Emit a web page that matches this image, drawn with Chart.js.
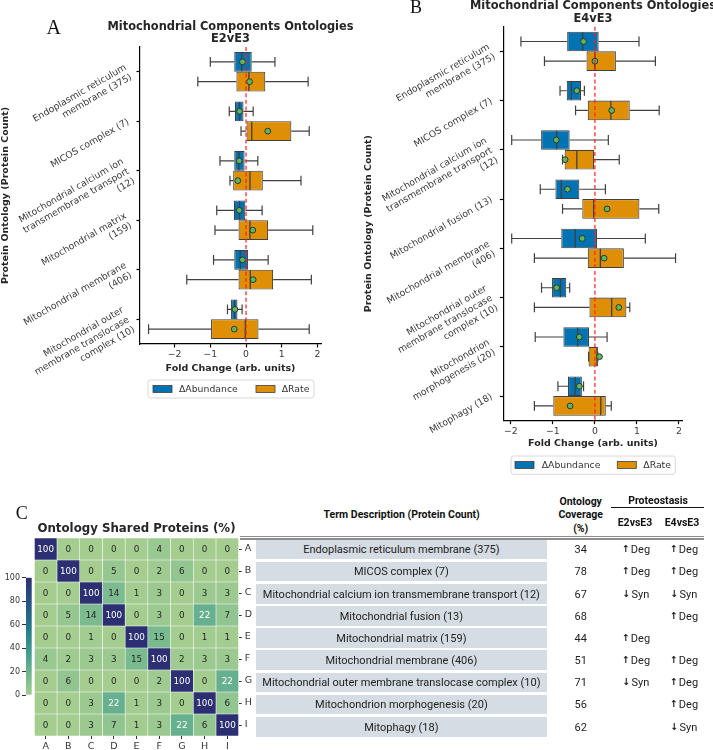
<!DOCTYPE html>
<html><head><meta charset="utf-8">
<script src="https://cdn.jsdelivr.net/npm/chart.js@4.4.1/dist/chart.umd.min.js"></script>
<style>
html,body{margin:0;padding:0;background:#fff;width:713px;height:750px;overflow:hidden;position:relative;}
canvas{position:absolute;}
.t{position:absolute;font-family:Roboto,'Liberation Sans',sans-serif;color:#222;white-space:nowrap;transform:translate(-50%,-50%);line-height:1;}
.hb{font-weight:bold;font-size:10.5px;color:#111;}
.ar{font-family:'DejaVu Sans',sans-serif;font-weight:bold;font-size:9.5px;position:relative;top:-1px;margin-right:1px;}
</style></head><body>
<canvas id="cA" width="365" height="420" style="left:0;top:0;width:365px;height:420px"></canvas>
<canvas id="cB" width="383" height="480" style="left:330px;top:0;width:383px;height:480px"></canvas>
<canvas id="cH" width="262" height="245" style="left:0;top:505px;width:262px;height:245px"></canvas>
<canvas id="cCB" width="34" height="132" style="left:0;top:570px;width:34px;height:132px"></canvas>
<div id="tbl"></div>
<script>
// ---------------- DATA ----------------
const foldTicks = [-2, -1, 0, 1, 2];
const seriesNames = ['\u0394Abundance', '\u0394Rate'];

const categoriesA = [
  ['Endoplasmic reticulum', 'membrane (375)'],
  ['MICOS complex (7)'],
  ['Mitochondrial calcium ion', 'transmembrane transport', '(12)'],
  ['Mitochondrial matrix', '(159)'],
  ['Mitochondrial membrane', '(406)'],
  ['Mitochondrial outer', 'membrane translocase', 'complex (10)']
];
// [whisker low, q1, median, q3, whisker high]
const abundanceA = [
  [-1.00, -0.33, -0.12, 0.16, 0.81],
  [-0.47, -0.31, -0.18, -0.07, 0.20],
  [-0.73, -0.33, -0.20, -0.04, 0.33],
  [-0.82, -0.34, -0.18, -0.02, 0.45],
  [-0.91, -0.33, -0.16, 0.06, 0.62],
  [-0.52, -0.42, -0.32, -0.24, -0.11]
];
const abundanceMeanA = [-0.10, -0.18, -0.19, -0.19, -0.10, -0.31];
const rateA = [
  [-1.35, -0.27, 0.08, 0.54, 1.74],
  [-0.14, 0.00, 0.16, 1.27, 1.77],
  [-0.45, -0.36, 0.11, 0.47, 1.54],
  [-0.87, -0.21, 0.11, 0.62, 1.87],
  [-1.66, -0.21, 0.12, 0.76, 1.83],
  [-2.73, -0.98, -0.02, 0.35, 1.77]
];
const rateMeanA = [0.10, 0.61, -0.23, 0.19, 0.20, -0.33];

const categoriesB = [
  ['Endoplasmic reticulum', 'membrane (375)'],
  ['MICOS complex (7)'],
  ['Mitochondrial calcium ion', 'transmembrane transport', '(12)'],
  ['Mitochondrial fusion (13)'],
  ['Mitochondrial membrane', '(406)'],
  ['Mitochondrial outer', 'membrane translocase', 'complex (10)'],
  ['Mitochondrion', 'morphogenesis (20)'],
  ['Mitophagy (18)']
];
const abundanceB = [
  [-1.76, -0.66, -0.29, 0.09, 1.05],
  [-0.83, -0.67, -0.56, -0.33, -0.25],
  [-1.98, -1.28, -0.91, -0.60, 0.32],
  [-1.30, -0.94, -0.80, -0.37, 0.25],
  [-1.98, -0.80, -0.47, 0.05, 1.20],
  [-1.27, -1.02, -0.82, -0.68, -0.60],
  [-1.42, -0.75, -0.41, -0.14, 0.29],
  [-0.88, -0.64, -0.47, -0.31, -0.27]
];
const abundanceMeanB = [-0.27, -0.43, -0.92, -0.65, -0.30, -0.91, -0.37, -0.37];
const rateB = [
  [-1.20, -0.20, 0.00, 0.50, 1.44],
  [-0.46, -0.17, 0.38, 0.83, 1.53],
  [-0.77, -0.72, -0.43, -0.02, 0.58],
  [-0.77, -0.30, -0.03, 1.06, 1.52],
  [-1.44, -0.17, 0.13, 0.69, 1.92],
  [-1.44, -0.13, 0.40, 0.75, 0.83],
  [-0.15, -0.15, 0.05, 0.07, 0.07],
  [-1.44, -0.99, 0.14, 0.26, 0.39]
];
const rateMeanB = [0.00, 0.40, -0.71, 0.29, 0.22, 0.57, 0.11, -0.59];

const heatLetters = ['A', 'B', 'C', 'D', 'E', 'F', 'G', 'H', 'I'];
const sharedPct = [
  [100, 0, 0, 0, 0, 4, 0, 0, 0],
  [0, 100, 0, 5, 0, 2, 6, 0, 0],
  [0, 0, 100, 14, 1, 3, 0, 3, 3],
  [0, 5, 14, 100, 0, 3, 0, 22, 7],
  [0, 0, 1, 0, 100, 15, 0, 1, 1],
  [4, 2, 3, 3, 15, 100, 2, 3, 3],
  [0, 6, 0, 0, 0, 2, 100, 0, 22],
  [0, 0, 3, 22, 1, 3, 0, 100, 6],
  [0, 0, 3, 7, 1, 3, 22, 6, 100]
];
const colorbarTicks = [0, 20, 40, 60, 80, 100];

const termDescriptions = [
  'Endoplasmic reticulum membrane (375)',
  'MICOS complex (7)',
  'Mitochondrial calcium ion transmembrane transport (12)',
  'Mitochondrial fusion (13)',
  'Mitochondrial matrix (159)',
  'Mitochondrial membrane (406)',
  'Mitochondrial outer membrane translocase complex (10)',
  'Mitochondrion morphogenesis (20)',
  'Mitophagy (18)'
];
const ontologyCoverage = [34, 78, 67, 68, 44, 51, 71, 56, 62];
const proteoE2vsE3 = ['\u2191Deg', '\u2191Deg', '\u2193Syn', '', '\u2191Deg', '\u2191Deg', '\u2193Syn', '', ''];
const proteoE4vsE3 = ['\u2191Deg', '\u2191Deg', '\u2193Syn', '\u2191Deg', '', '\u2191Deg', '\u2191Deg', '\u2191Deg', '\u2193Syn'];

// ---------------- STYLE ----------------
Chart.defaults.font.family = "'DejaVu Sans', sans-serif";
Chart.defaults.color = '#333';
const BLUE = '#0173B2', ORANGE = '#DE8F05', LINE = '#404040', MEAN = '#5cb85c';

const crestStops = [
  [0.00, [165, 205, 144]],
  [0.15, [121, 186, 143]],
  [0.30, [82, 164, 142]],
  [0.45, [52, 141, 141]],
  [0.60, [37, 116, 137]],
  [0.75, [36, 92, 132]],
  [0.88, [40, 68, 124]],
  [1.00, [44, 48, 114]]
];
function crestRGB(t) {
  t = Math.max(0, Math.min(1, t));
  for (let k = 1; k < crestStops.length; k++) {
    const [t1, c1] = crestStops[k];
    const [t0, c0] = crestStops[k - 1];
    if (t <= t1) {
      const f = (t - t0) / (t1 - t0);
      return c0.map((v, i) => Math.round(v + (c1[i] - v) * f));
    }
  }
  return crestStops[crestStops.length - 1][1];
}
function crestColor(t) { const c = crestRGB(t); return `rgb(${c[0]},${c[1]},${c[2]})`; }
function lum(c) {
  const f = v => { v /= 255; return v <= 0.03928 ? v / 12.92 : Math.pow((v + 0.055) / 1.055, 2.4); };
  return 0.2126 * f(c[0]) + 0.7152 * f(c[1]) + 0.0722 * f(c[2]);
}

// ---------------- PLUGINS ----------------
const boxDecor = {
  id: 'boxDecor',
  afterDatasetsDraw(chart) {
    const ctx = chart.ctx, xs = chart.scales.x, area = chart.chartArea;
    const px = v => xs.getPixelForValue(v);
    chart.data.datasets.forEach((ds, di) => {
      const meta = chart.getDatasetMeta(di);
      meta.data.forEach((el, i) => {
        const s = ds.stats[i];
        const {y, height} = el.getProps(['y', 'height'], true);
        ctx.save();
        ctx.strokeStyle = LINE; ctx.lineWidth = 1.2;
        ctx.beginPath();
        ctx.moveTo(px(s[0]), y); ctx.lineTo(px(s[1]), y);
        ctx.moveTo(px(s[3]), y); ctx.lineTo(px(s[4]), y);
        const ch = height / 4;
        ctx.moveTo(px(s[0]), y - ch); ctx.lineTo(px(s[0]), y + ch);
        ctx.moveTo(px(s[4]), y - ch); ctx.lineTo(px(s[4]), y + ch);
        ctx.stroke();
        ctx.beginPath();
        ctx.lineWidth = 1.3;
        ctx.moveTo(px(s[2]), y - height / 2 + 0.5); ctx.lineTo(px(s[2]), y + height / 2 - 0.5);
        ctx.stroke();
        ctx.beginPath();
        ctx.arc(px(ds.means[i]), y, 2.9, 0, Math.PI * 2);
        ctx.fillStyle = MEAN; ctx.fill();
        ctx.lineWidth = 0.9; ctx.strokeStyle = '#2a2a2a'; ctx.stroke();
        ctx.restore();
      });
    });
    // zero reference line
    ctx.save();
    ctx.strokeStyle = 'rgba(255,30,30,0.85)';
    ctx.lineWidth = 1.4;
    ctx.setLineDash([4, 2.6]);
    ctx.beginPath();
    ctx.moveTo(px(0), area.top); ctx.lineTo(px(0), area.bottom);
    ctx.stroke();
    ctx.restore();
  }
};

function makeTextPlugin(items) {
  return {
    id: 'panelText',
    afterDraw(chart) {
      const ctx = chart.ctx, a = chart.chartArea;
      items.forEach(it => {
        ctx.save();
        ctx.font = it.font;
        ctx.fillStyle = it.color || '#222';
        ctx.textAlign = 'center';
        ctx.textBaseline = 'middle';
        const x = it.x === 'center' ? (a.left + a.right) / 2 : it.x;
        ctx.fillText(it.text, x, it.y);
        ctx.restore();
      });
    }
  };
}

function makeLegendPlugin(L) {
  return {
    id: 'boxLegend',
    afterDraw(chart) {
      const ctx = chart.ctx;
      ctx.save();
      ctx.beginPath();
      if (ctx.roundRect) ctx.roundRect(L.x, L.y, L.w, L.h, 2.5); else ctx.rect(L.x, L.y, L.w, L.h);
      ctx.fillStyle = 'rgba(255,255,255,0.9)'; ctx.fill();
      ctx.strokeStyle = '#d4d4d4'; ctx.lineWidth = 0.9; ctx.stroke();
      chart.data.datasets.forEach((ds, i) => {
        const it = L.items[i];
        ctx.fillStyle = ds.backgroundColor;
        ctx.fillRect(it.px, L.cy - 3.5, 19, 7);
        ctx.strokeStyle = LINE; ctx.lineWidth = 0.8;
        ctx.strokeRect(it.px, L.cy - 3.5, 19, 7);
        ctx.fillStyle = '#333';
        ctx.font = "9.3px 'DejaVu Sans'";
        ctx.textAlign = 'left'; ctx.textBaseline = 'middle';
        ctx.fillText(ds.label, it.tx, L.cy + 0.5);
      });
      ctx.restore();
    }
  };
}

function boxChart(id, cats, abund, abundMean, rate, rateMean, cfg) {
  const axisTitleFont = {size: 9.5, weight: 'bold'};
  return new Chart(document.getElementById(id), {
    type: 'bar',
    data: {
      labels: cats,
      datasets: [
        {label: seriesNames[0], data: abund.map(s => [s[1], s[3]]), stats: abund, means: abundMean,
         backgroundColor: BLUE, borderColor: LINE, borderWidth: 1.1, borderSkipped: false,
         categoryPercentage: 0.8, barPercentage: 1},
        {label: seriesNames[1], data: rate.map(s => [s[1], s[3]]), stats: rate, means: rateMean,
         backgroundColor: ORANGE, borderColor: LINE, borderWidth: 1.1, borderSkipped: false,
         categoryPercentage: 0.8, barPercentage: 1}
      ]
    },
    options: {
      indexAxis: 'y', responsive: false, animation: false, events: [],
      layout: {padding: cfg.padding},
      plugins: {legend: {display: false}, tooltip: {enabled: false}},
      scales: {
        x: {
          type: 'linear', min: cfg.xmin, max: cfg.xmax,
          afterBuildTicks: s => { s.ticks = foldTicks.map(v => ({value: v})); },
          afterFit: s => { s.height = cfg.xh; s.paddingLeft = 0; s.paddingRight = 0; },
          ticks: {callback: v => (v < 0 ? '\u2212' + Math.abs(v) : String(v)), font: {size: 9.3}, color: '#3a3a3a', padding: 2, autoSkip: false, maxRotation: 0},
          grid: {drawOnChartArea: false, drawTicks: true, tickLength: 3.5, tickWidth: 1.2, tickColor: '#000'},
          border: {display: true, color: '#000', width: 1.2},
          title: {display: true, text: 'Fold Change (arb. units)', font: axisTitleFont, color: '#262626', padding: {top: 0, bottom: cfg.xtp}}
        },
        y: {
          type: 'category',
          afterFit: s => { s.width = cfg.yw; s.paddingTop = 0; s.paddingBottom = 0; },
          ticks: {font: {size: 9.3}, color: '#3a3a3a', minRotation: 30, maxRotation: 30, padding: 8, autoSkip: false},
          grid: {offset: false, drawOnChartArea: false, drawTicks: true, tickLength: 3.5, tickWidth: 1.2, tickColor: '#000'},
          border: {display: true, color: '#000', width: 1.2},
          title: {display: true, text: 'Protein Ontology (Protein Count)', font: axisTitleFont, color: '#262626', padding: {top: cfg.ytp, bottom: 0}}
        }
      }
    },
    plugins: [boxDecor, makeTextPlugin(cfg.texts), makeLegendPlugin(cfg.legend)]
  });
}

// Panel A
boxChart('cA', categoriesA, abundanceA, abundanceMeanA, rateA, rateMeanA, {
  padding: {left: 0, top: 47, right: 44, bottom: 0},
  xmin: -2.97, xmax: 2.1, xh: 76, xtp: 46, yw: 140, ytp: 0,
  texts: [
    {text: 'Mitochondrial Components Ontologies', x: 'center', y: 26.7, font: "bold 11.4px 'DejaVu Sans'", color: '#262626'},
    {text: 'E2vE3', x: 'center', y: 39.2, font: "bold 11.4px 'DejaVu Sans'", color: '#262626'},
    {text: 'A', x: 53.7, y: 28.5, font: "20px 'Liberation Serif'", color: '#111'}
  ],
  legend: {x: 148, y: 380, w: 166, h: 18, cy: 389, items: [{px: 153, tx: 179}, {px: 256, tx: 281.7}]}
});

// Panel B
boxChart('cB', categoriesB, abundanceB, abundanceMeanB, rateB, rateMeanB, {
  padding: {left: 0, top: 26.7, right: 30.3, bottom: 0},
  xmin: -2.18, xmax: 2.09, xh: 59.3, xtp: 31, yw: 173.3, ytp: 32.6,
  texts: [
    {text: 'Mitochondrial Components Ontologies', x: 'center', y: 6.5, font: "bold 11.4px 'DejaVu Sans'", color: '#262626'},
    {text: 'E4vE3', x: 'center', y: 18.7, font: "bold 11.4px 'DejaVu Sans'", color: '#262626'},
    {text: 'B', x: 86, y: 8.3, font: "18px 'Liberation Serif'", color: '#111'}
  ],
  legend: {x: 181, y: 456, w: 164.3, h: 18.3, cy: 465, items: [{px: 185, tx: 211.7}, {px: 287.3, tx: 313.3}]}
});

// Heatmap
const cellText = {
  id: 'cellText',
  afterDatasetsDraw(chart) {
    const ctx = chart.ctx;
    chart.data.datasets.forEach((ds, j) => {
      chart.getDatasetMeta(j).data.forEach((el, i) => {
        const {x, y, base} = el.getProps(['x', 'y', 'base'], true);
        const v = ds.values[i];
        ctx.save();
        ctx.font = "8.8px 'DejaVu Sans'";
        ctx.textAlign = 'center'; ctx.textBaseline = 'middle';
        ctx.fillStyle = lum(crestRGB(v / 100)) > 0.408 ? '#262626' : '#ffffff';
        ctx.fillText(String(v), (x + base) / 2, y + 0.5);
        ctx.restore();
      });
    });
  }
};
new Chart(document.getElementById('cH'), {
  type: 'bar',
  data: {
    labels: heatLetters,
    datasets: heatLetters.map((c, j) => ({
      label: c,
      data: heatLetters.map(() => [j, j + 1]),
      values: sharedPct.map(r => r[j]),
      backgroundColor: sharedPct.map(r => crestColor(r[j] / 100)),
      borderColor: 'rgba(255,255,255,0.28)', borderWidth: 0.6, borderSkipped: false,
      barPercentage: 1, categoryPercentage: 1, grouped: false
    }))
  },
  options: {
    indexAxis: 'y', responsive: false, animation: false, events: [],
    layout: {padding: {left: 34.3, top: 33, right: 0, bottom: 0}},
    plugins: {legend: {display: false}, tooltip: {enabled: false}},
    scales: {
      x: {
        type: 'linear', min: 0, max: 9,
        afterBuildTicks: s => { s.ticks = heatLetters.map((c, j) => ({value: j + 0.5})); },
        afterFit: s => { s.height = 14; s.paddingLeft = 0; s.paddingRight = 0; },
        ticks: {callback: v => heatLetters[Math.floor(v)], font: {size: 9.5}, color: '#333', padding: 1.5, autoSkip: false, maxRotation: 0},
        grid: {drawOnChartArea: false, tickLength: 3, tickWidth: 1, tickColor: '#333'},
        border: {display: false}
      },
      y: {
        type: 'category', position: 'right',
        afterFit: s => { s.width = 23.3; s.paddingTop = 0; s.paddingBottom = 0; },
        ticks: {font: {size: 9.5}, color: '#333', padding: 3, autoSkip: false},
        grid: {offset: false, drawOnChartArea: false, tickLength: 3, tickWidth: 1, tickColor: '#333'},
        border: {display: false}
      }
    }
  },
  plugins: [cellText, makeTextPlugin([
    {text: 'Ontology Shared Proteins (%)', x: 'center', y: 24, font: "bold 11.8px 'DejaVu Sans'", color: '#262626'},
    {text: 'C', x: 21.7, y: 8.8, font: "18px 'Liberation Serif'", color: '#111'}
  ])]
});

// Colorbar
new Chart(document.getElementById('cCB'), {
  type: 'bar',
  data: {
    labels: [''],
    datasets: [{
      data: [[colorbarTicks[0], colorbarTicks[colorbarTicks.length - 1]]],
      backgroundColor: c => {
        const a = c.chart.chartArea;
        if (!a) return crestColor(0.5);
        const g = c.chart.ctx.createLinearGradient(0, a.bottom, 0, a.top);
        crestStops.forEach(([t, rgb]) => g.addColorStop(t, `rgb(${rgb[0]},${rgb[1]},${rgb[2]})`));
        return g;
      },
      borderWidth: 0, barPercentage: 1, categoryPercentage: 1
    }]
  },
  options: {
    responsive: false, animation: false, events: [],
    layout: {padding: {top: 7.7, bottom: 7, right: 2.3, left: 0}},
    plugins: {legend: {display: false}, tooltip: {enabled: false}},
    scales: {
      x: {display: false},
      y: {
        min: 0, max: 100,
        afterBuildTicks: s => { s.ticks = colorbarTicks.map(v => ({value: v})); },
        afterFit: s => { s.width = 26; s.paddingTop = 0; s.paddingBottom = 0; },
        ticks: {font: {size: 8}, color: '#333', padding: 2},
        grid: {drawOnChartArea: false, tickLength: 4, tickWidth: 1, tickColor: '#333'},
        border: {display: false}
      }
    }
  }
});

// ---------------- TABLE ----------------
const tbl = document.getElementById('tbl');
function txt(html, x, y, cls, extra) {
  const d = document.createElement('div');
  d.className = 't ' + (cls || '');
  d.style.left = x + 'px'; d.style.top = y + 'px';
  if (extra) d.style.cssText += extra;
  d.innerHTML = html;
  tbl.appendChild(d);
  return d;
}
function box(x, y, w, h, bg) {
  const d = document.createElement('div');
  d.style.cssText = `position:absolute;left:${x}px;top:${y}px;width:${w}px;height:${h}px;background:${bg};`;
  tbl.appendChild(d);
}
txt('Term Description (Protein Count)', 401.7, 515, 'hb');
txt('Ontology', 580.7, 501.7, 'hb');
txt('Coverage', 580.7, 515.2, 'hb');
txt('(%)', 580.7, 529, 'hb');
txt('Proteostasis', 658, 500.7, 'hb');
txt('E2vsE3', 635, 523.3, 'hb');
txt('E4vsE3', 682, 523.3, 'hb');
box(610.7, 506.5, 93.3, 1.6, '#111');
box(240, 535.6, 464, 1.3, '#8c8c8c');
box(240, 538.3, 464, 1.3, '#8c8c8c');
function proto(s) {
  if (!s) return '';
  return `<span class="ar">${s[0]}</span>${s.slice(1)}`;
}
termDescriptions.forEach((d, i) => {
  const cy = 549.3 + 22.17 * i;
  box(256, cy - 9.7, 290.7, 19.6, '#d6dce4');
  txt(d, 401.4, cy, '', 'font-size:11px;');
  txt(String(ontologyCoverage[i]), 580.7, cy, '', 'font-size:11px;');
  if (proteoE2vsE3[i]) txt(proto(proteoE2vsE3[i]), 636, cy, '', 'font-size:11px;');
  if (proteoE4vsE3[i]) txt(proto(proteoE4vsE3[i]), 684, cy, '', 'font-size:11px;');
});
</script>
</body></html>
